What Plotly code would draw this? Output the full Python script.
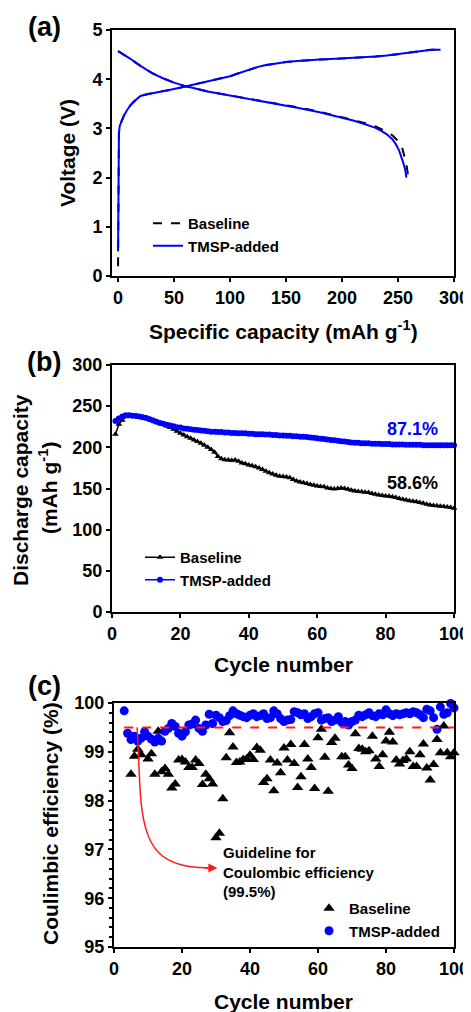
import plotly.graph_objects as go

# Page offset: the browser body adds an 8 px margin, so the figure is drawn
# 8 px smaller and every reference pixel position is shifted by that amount.
PAGE_W, PAGE_H, OFF = 471, 1012, 8
W, H = PAGE_W - OFF, PAGE_H - OFF

# ---------------- Panel (a): voltage profiles ----------------
tmsp_charge_cap = [0, 0.3, 0.8, 1.5, 3, 5, 8, 11, 14, 17, 20, 25, 30, 40, 50, 60, 70, 80, 90, 100,
                   105, 110, 115, 120, 125, 130, 140, 150, 160, 170, 180, 190, 200, 210, 220, 230,
                   240, 250, 260, 270, 280, 288]
tmsp_charge_v = [0.5, 2.0, 2.9, 3.05, 3.15, 3.25, 3.37, 3.47, 3.54, 3.6, 3.66, 3.69, 3.71, 3.75, 3.8,
                 3.85, 3.9, 3.95, 4.0, 4.06, 4.1, 4.14, 4.18, 4.22, 4.25, 4.28, 4.32, 4.35, 4.37,
                 4.39, 4.4, 4.41, 4.42, 4.43, 4.44, 4.46, 4.48, 4.51, 4.54, 4.57, 4.6, 4.6]
base_charge_cap = [0, 0.3, 0.8, 1.5, 3, 5, 8, 11, 14, 17, 20, 25, 30, 40, 50, 60, 70, 80, 90, 100,
                   105, 110, 115, 120, 125, 130, 140, 150, 160, 170, 180, 190, 200, 210, 220, 230,
                   240, 250, 260, 270, 280, 291]
base_charge_v = [0.2, 2.0, 2.9, 3.05, 3.15, 3.25, 3.37, 3.47, 3.54, 3.6, 3.66, 3.69, 3.71, 3.75, 3.8,
                 3.85, 3.9, 3.95, 4.0, 4.06, 4.1, 4.14, 4.18, 4.22, 4.25, 4.28, 4.32, 4.35, 4.37,
                 4.39, 4.4, 4.41, 4.42, 4.43, 4.44, 4.46, 4.48, 4.51, 4.54, 4.57, 4.6, 4.6]
tmsp_dis_cap = [0, 5, 10, 20, 30, 40, 50, 60, 70, 80, 90, 100, 120, 140, 160, 180, 200, 210, 220,
                230, 235, 240, 245, 248, 251, 253, 255, 256.5, 257.5]
tmsp_dis_v = [4.57, 4.5, 4.43, 4.27, 4.13, 4.02, 3.93, 3.86, 3.8, 3.75, 3.71, 3.67, 3.59, 3.51, 3.42,
              3.33, 3.22, 3.16, 3.09, 3.01, 2.95, 2.88, 2.78, 2.68, 2.55, 2.43, 2.28, 2.15, 2.0]
base_dis_cap = [0, 5, 10, 20, 30, 40, 50, 60, 70, 80, 90, 100, 120, 140, 160, 180, 200, 210, 220,
                230, 235, 240, 245, 248, 251, 254, 256, 257.5, 258.5, 259]
base_dis_v = [4.57, 4.5, 4.43, 4.27, 4.13, 4.02, 3.93, 3.86, 3.8, 3.75, 3.71, 3.67, 3.6, 3.52, 3.43,
              3.34, 3.23, 3.17, 3.11, 3.04, 2.99, 2.93, 2.86, 2.8, 2.72, 2.58, 2.43, 2.27, 2.12, 2.0]

# ---------------- Panel (b): discharge capacity vs cycle ----------------
cycles = list(range(1, 101))
base_capacity = [216, 228, 233, 237, 238, 238, 237.5, 237, 236.5, 236,
                 234.5, 233, 231.5, 230, 228, 226, 224, 222, 219.5, 217,
                 215, 213, 211, 209, 207, 205, 202.5, 200, 197.5, 194,
                 189, 186, 185, 184.5, 184, 184.5, 183, 181, 180, 178.5,
                 177.5, 176.5, 175, 173, 171, 169, 167.5, 166, 165, 164.5,
                 164, 163, 161, 159, 158, 157, 156, 155, 154, 153,
                 152.5, 152, 150.5, 150, 149.5, 150, 150.5, 150, 149, 148,
                 147, 146.5, 146, 145.5, 145, 144, 143, 142, 141.5, 141,
                 140.5, 140, 139, 138, 137, 136, 135, 134.5, 134, 133,
                 132, 131, 130, 129.5, 129, 128.5, 128, 127.5, 127, 126]
tmsp_capacity = [232, 235, 237.5, 239, 239, 238.5, 238, 237.5, 236.5, 235.5,
                 234, 232.5, 231, 229.5, 228.5, 227.5, 226.5, 225.5, 224.5, 224,
                 223, 222.5, 222, 221.5, 221, 220.5, 220, 219.5, 219, 219,
                 218.5, 218.5, 218, 218, 217.5, 217.5, 217, 217, 217, 216.5,
                 216.5, 216, 216, 216, 215.5, 215.5, 215, 215, 214.5, 214.5,
                 214, 214, 213.5, 213.5, 213, 213, 212.5, 212, 211.5, 211,
                 210.5, 210, 209.5, 209, 208.5, 208, 207.5, 207, 206.5, 206,
                 205.5, 205.5, 205, 205, 205, 204.5, 204.5, 204.5, 204, 204,
                 204, 203.5, 203.5, 203.5, 203.5, 203, 203, 203, 203, 203,
                 202.5, 202.5, 202.5, 202.5, 202.5, 202.5, 202.5, 202.5, 202.5, 202.5]
retention_labels = ["87.1%", "58.6%"]

# ---------------- Panel (c): Coulombic efficiency ----------------
base_ce_cycles = list(range(5, 101))
base_ce = [98.54, 98.91, 99.05, 98.94, 99.3, 98.85, 98.96, 98.54, 99.42, 98.59,
           98.66, 98.54, 98.26, 98.34, 98.83, 98.84, 98.79, 98.68, 98.68, 98.83,
           98.76, 98.33, 98.54, 98.45, 98.34, 97.24, 97.33, 98.04, 98.88, 99.39,
           99.1, 98.78, 98.79, 98.84, 98.85, 98.93, 98.84, 99.09, 99.03, 98.37,
           98.45, 98.83, 98.2, 98.77, 98.57, 99.08, 98.83, 99.15, 98.76, 98.27,
           98.49, 99.15, 98.85, 98.68, 98.25, 99.29, 99.46, 98.89, 98.19, 99.19,
           99.28, 99.64, 98.9, 98.9, 98.73, 98.66, 99.37, 99.07, 99.05, 99.0,
           99.02, 99.32, 98.85, 98.7, 98.94, 99.22, 99.4, 99.2, 98.83, 98.75,
           98.82, 98.85, 99.0, 98.7, 98.7, 98.94, 99.16, 98.67, 98.42, 98.74,
           99.25, 98.98, 99.53, 98.98, 98.9, 98.98]
tmsp_ce_cycles = list(range(3, 101))
tmsp_ce = [99.84, 99.38, 99.25, 99.32, 99.22, 99.28, 99.41, 99.32, 99.26, 99.2,
           99.28, 99.22, 99.42, 99.48, 99.58, 99.52, 99.38, 99.32, 99.41, 99.55,
           99.57, 99.65, 99.48, 99.42, 99.55, 99.77, 99.58, 99.75, 99.7, 99.62,
           99.64, 99.74, 99.84, 99.78, 99.75, 99.72, 99.7, 99.75, 99.78, 99.72,
           99.74, 99.78, 99.68, 99.7, 99.84, 99.78, 99.68, 99.62, 99.65, 99.66,
           99.82, 99.8, 99.76, 99.78, 99.68, 99.72, 99.78, 99.8, 99.65, 99.68,
           99.7, 99.62, 99.65, 99.72, 99.6, 99.62, 99.55, 99.62, 99.65, 99.75,
           99.72, 99.76, 99.8, 99.74, 99.72, 99.78, 99.76, 99.86, 99.78, 99.74,
           99.78, 99.76, 99.78, 99.8, 99.78, 99.82, 99.8, 99.76, 99.7, 99.87,
           99.84, 99.7, 99.46, 99.92, 99.77, 99.8, 99.99, 99.9]
guideline_ce = 99.5
guideline_text = "Guideline for<br>Coulombic efficiency<br>(99.5%)"

series_names = ["Baseline", "TMSP-added"]
BLUE = "#0000FF"
BLACK = "#000000"
RED = "#FF1A1A"
FONT = "Liberation Sans, Arial, sans-serif"

def px_x(p):
    return (p - OFF) / W

def px_y(p):
    return 1 - (p - OFF) / H

fig = go.Figure()

# (a)
fig.add_trace(go.Scatter(x=base_charge_cap, y=base_charge_v, mode="lines", name=series_names[0],
                         line=dict(color=BLACK, width=2, dash="dash"), xaxis="x", yaxis="y",
                         legend="legend"))
fig.add_trace(go.Scatter(x=base_dis_cap, y=base_dis_v, mode="lines", name=series_names[0],
                         line=dict(color=BLACK, width=2, dash="dash"), xaxis="x", yaxis="y",
                         showlegend=False))
fig.add_trace(go.Scatter(x=tmsp_charge_cap, y=tmsp_charge_v, mode="lines", name=series_names[1],
                         line=dict(color=BLUE, width=2), xaxis="x", yaxis="y", legend="legend"))
fig.add_trace(go.Scatter(x=tmsp_dis_cap, y=tmsp_dis_v, mode="lines", name=series_names[1],
                         line=dict(color=BLUE, width=2), xaxis="x", yaxis="y", showlegend=False))

# (b)
fig.add_trace(go.Scatter(x=cycles, y=base_capacity, mode="lines+markers", name=series_names[0],
                         line=dict(color=BLACK, width=1.5),
                         marker=dict(symbol="triangle-up", size=6, color=BLACK),
                         xaxis="x2", yaxis="y2", legend="legend2", cliponaxis=False))
fig.add_trace(go.Scatter(x=cycles, y=tmsp_capacity, mode="lines+markers", name=series_names[1],
                         line=dict(color=BLUE, width=1.5),
                         marker=dict(symbol="circle", size=6, color=BLUE),
                         xaxis="x2", yaxis="y2", legend="legend2", cliponaxis=False))

# (c)
fig.add_trace(go.Scatter(x=base_ce_cycles, y=base_ce, mode="markers", name=series_names[0],
                         marker=dict(symbol="triangle-up", size=10, color=BLACK),
                         xaxis="x3", yaxis="y3", legend="legend3", cliponaxis=False))
fig.add_trace(go.Scatter(x=tmsp_ce_cycles, y=tmsp_ce, mode="markers", name=series_names[1],
                         marker=dict(symbol="circle", size=9, color=BLUE),
                         xaxis="x3", yaxis="y3", legend="legend3", cliponaxis=False))

axis_common = dict(showgrid=False, zeroline=False, showline=True, linecolor=BLACK, linewidth=2,
                   mirror=True, ticks="outside", ticklen=4, tickwidth=2, tickcolor=BLACK,
                   automargin=False,
                   tickfont=dict(family=FONT, size=18, color=BLACK, weight="bold"))

dom_x_a = [px_x(112), px_x(454)]
dom_x_c = [px_x(114), px_x(454)]

legend_font = dict(family=FONT, size=15, color=BLACK, weight="bold")

fig.update_layout(
    template="none",
    width=W, height=H, margin=dict(l=0, r=0, t=0, b=0, autoexpand=False),
    paper_bgcolor="white", plot_bgcolor="white",
    font=dict(family=FONT, color=BLACK),
    xaxis=dict(axis_common, domain=dom_x_a, range=[-5.4, 300], tickvals=[0, 50, 100, 150, 200, 250, 300],
               anchor="y"),
    yaxis=dict(axis_common, domain=[px_y(276), px_y(30)], range=[0, 5], tickvals=[0, 1, 2, 3, 4, 5],
               anchor="x"),
    xaxis2=dict(axis_common, domain=dom_x_a, range=[0, 100], tickvals=[0, 20, 40, 60, 80, 100],
                anchor="y2"),
    yaxis2=dict(axis_common, domain=[px_y(612), px_y(365)], range=[0, 300],
                tickvals=[0, 50, 100, 150, 200, 250, 300], anchor="x2"),
    xaxis3=dict(axis_common, domain=dom_x_c, range=[0, 100], tickvals=[0, 20, 40, 60, 80, 100],
                anchor="y3"),
    yaxis3=dict(axis_common, domain=[px_y(947), px_y(703)], range=[95, 100],
                tickvals=[95, 96, 97, 98, 99, 100], anchor="x3",
                minor=dict(dtick=0.2, ticks="outside", ticklen=3, tickwidth=1.5, tickcolor=BLACK,
                           showgrid=False)),
    legend=dict(x=px_x(148), y=px_y(207), xanchor="left", yanchor="top", bgcolor="rgba(0,0,0,0)",
                font=legend_font, tracegroupgap=0, itemwidth=30),
    legend2=dict(x=px_x(140), y=px_y(541), xanchor="left", yanchor="top", bgcolor="rgba(0,0,0,0)",
                 font=legend_font, tracegroupgap=0, itemwidth=30),
    legend3=dict(x=px_x(309), y=px_y(892), xanchor="left", yanchor="top", bgcolor="rgba(0,0,0,0)",
                 font=legend_font, tracegroupgap=0, itemwidth=30),
)

# guideline and curved arrow in (c)
fig.add_shape(type="line", xref="x3", yref="y3", x0=3, x1=100, y0=guideline_ce, y1=guideline_ce,
              line=dict(color=RED, width=2, dash="dash"))
fig.add_shape(type="path", xref="x3", yref="y3",
              path="M 6.8,99.5 L 7.6,98.3 C 8.6,96.9 14,96.62 29.5,96.62",
              line=dict(color=RED, width=1.5))
fig.add_annotation(x=30.4, y=96.62, xref="x3", yref="y3", text="", showarrow=True,
                   ax=-14, ay=0, arrowhead=2, arrowsize=1.2, arrowwidth=1.5, arrowcolor=RED)

title_font = dict(family=FONT, size=21, color=BLACK, weight="bold")
panel_font = dict(family=FONT, size=27, color=BLACK, weight="bold")
anns = [
    dict(x=px_x(44), y=px_y(27), text="(a)", font=panel_font),
    dict(x=px_x(44), y=px_y(362), text="(b)", font=panel_font),
    dict(x=px_x(44), y=px_y(686), text="(c)", font=panel_font),
    dict(x=px_x(283), y=px_y(330), text="Specific capacity (mAh g<sup>-1</sup>)", font=title_font),
    dict(x=px_x(68), y=px_y(153), text="Voltage (V)", font=title_font, textangle=-90),
    dict(x=px_x(283), y=px_y(664), text="Cycle number", font=title_font),
    dict(x=px_x(20), y=px_y(490), text="Discharge capacity", font=title_font, textangle=-90),
    dict(x=px_x(48), y=px_y(488), text="(mAh g<sup>-1</sup>)", font=title_font, textangle=-90),
    dict(x=px_x(283), y=px_y(1001), text="Cycle number", font=title_font),
    dict(x=px_x(50), y=px_y(824), text="Coulimbic efficiency (%)", font=title_font, textangle=-90),
    dict(x=px_x(440), y=px_y(429), text=retention_labels[0], xanchor="right",
         font=dict(family=FONT, size=18, color=BLUE, weight="bold")),
    dict(x=px_x(440), y=px_y(483), text=retention_labels[1], xanchor="right",
         font=dict(family=FONT, size=18, color=BLACK, weight="bold")),
    dict(x=px_x(221), y=px_y(872), text=guideline_text, xanchor="left", align="left",
         font=dict(family=FONT, size=15, color=BLACK, weight="bold")),
]
for a in anns:
    base = dict(xref="paper", yref="paper", showarrow=False, xanchor="center", yanchor="middle")
    base.update(a)
    fig.add_annotation(**base)

fig.write_html("out.html")
